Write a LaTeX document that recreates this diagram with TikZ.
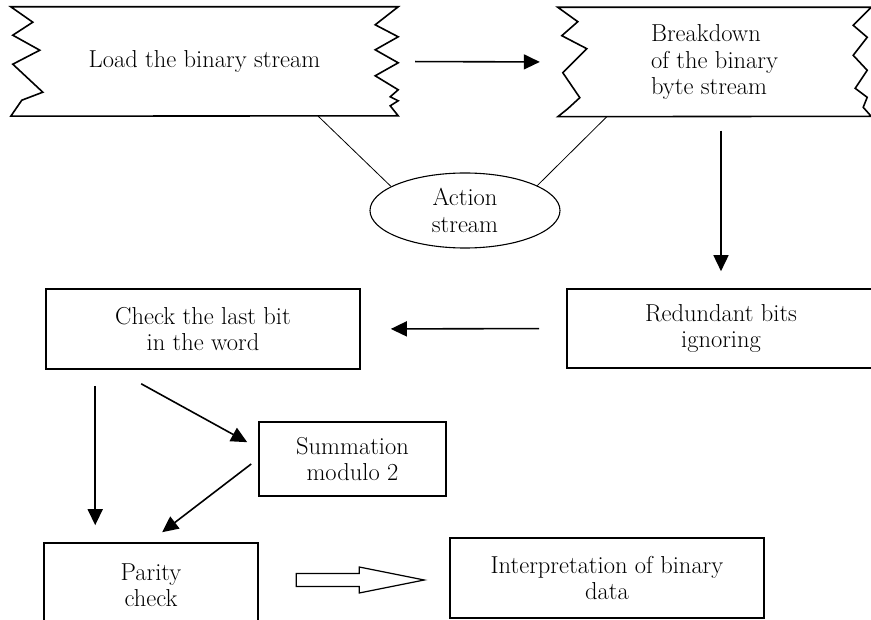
\documentclass[tikz,border=0pt]{standalone}
\usetikzlibrary{arrows.meta,shapes.geometric}
\begin{document}
\begin{tikzpicture}[x=1pt,y=-1pt,>={Triangle[length=16pt,width=15pt]},
  every node/.style={font=\fontsize{24.5}{26.5}\selectfont, inner sep=0pt},
  box/.style={draw, line width=1.6pt, align=center},
  edge/.style={line width=1.6pt, line join=miter},
  flow/.style={->, line width=1.6pt},
  link/.style={line width=0.8pt}]
  \useasboundingbox (0,0) rectangle (871,620);
  \clip (0,0) rectangle (871,620);

  \node[minimum width=387pt, minimum height=109pt, align=center] (load) at (204.5,61.5) {Load the binary stream};
  \node[minimum width=313pt, minimum height=109pt, align=left] (brk) at (714.5,62) {Breakdown\\of the binary\\byte stream};
  \node[ellipse, draw, line width=1.1pt, minimum width=190pt, minimum height=75pt, align=center] (action) at (465,210.5) {Action\\stream};
  \node[box, minimum width=314pt, minimum height=80pt] (check) at (203,329) {Check the last bit\\in the word};
  \node[box, minimum width=308pt, minimum height=79pt] (redund) at (721,328.5) {Redundant bits\\ignoring};
  \node[box, minimum width=187pt, minimum height=74pt] (sum) at (352.5,459) {Summation\\modulo 2};
  \node[box, minimum width=214pt, minimum height=84pt] (parity) at (151,585) {Parity\\check};
  \node[box, minimum width=314pt, minimum height=80pt] (interp) at (607,578) {Interpretation of binary\\data};

  % torn edges of the two stream blocks
  \draw[edge] (load.north west) -- (load.north east) -- ++(-23,18) -- ++(23,12) -- ++(-23,13)
    -- ++(23,13) -- ++(-23,13) -- ++(23,14) -- ++(-8,7) -- ++(8,4) -- ++(-8,5) -- ++(8,10)
    -- (load.south west) -- ++(11,-16) -- ++(21,-8) -- ++(-30,-28) -- ++(27,-14) -- ++(-27,-15)
    -- ++(20,-13) -- cycle;
  \draw[edge] (brk.north west) -- (brk.north east) -- ++(-18,18) -- ++(14,12) -- ++(-14,18)
    -- ++(14,15) -- ++(-12,18) -- ++(12,9) -- ++(-4,10) -- ++(8,9)
    -- (brk.south west) -- ++(10,-8) -- ++(12,-11) -- ++(-17,-25) -- ++(24,-24) -- ++(-25,-13)
    -- ++(16,-14) -- cycle;

  \draw[flow, shorten <=17pt, shorten >=18pt] (load.east) -- (brk.west);
  \draw[link] ([xshift=-80pt]load.south east) -- (action.162);
  \draw[link] ([xshift=49pt]brk.south west) -- (action.19);
  \draw[flow, shorten <=14pt, shorten >=17pt] (brk.south -| redund.north) -- (redund.north);
  \draw[flow, shorten <=27pt, shorten >=30pt] (redund.west) -- (check.east);
  \draw[flow, shorten <=16pt, shorten >=17pt] ([xshift=50pt]check.south west) -- ([xshift=52pt]parity.north west);
  \draw[flow] ([xshift=96pt,yshift=-14pt]check.south west) -- ([xshift=-11pt,yshift=-21pt]sum.north west);
  \draw[flow] ([xshift=-7pt,yshift=-5pt]sum.west) -- ([xshift=119pt,yshift=10pt]parity.north west);

  % hollow arrow
  \draw[line width=1.2pt] ([xshift=-25pt,yshift=-2pt]interp.west) -- ++(-65,-13) -- ++(0,6.5)
    -- ++(-63,0) -- ++(0,13) -- ++(63,0) -- ++(0,6.5) -- cycle;
\end{tikzpicture}
\end{document}
